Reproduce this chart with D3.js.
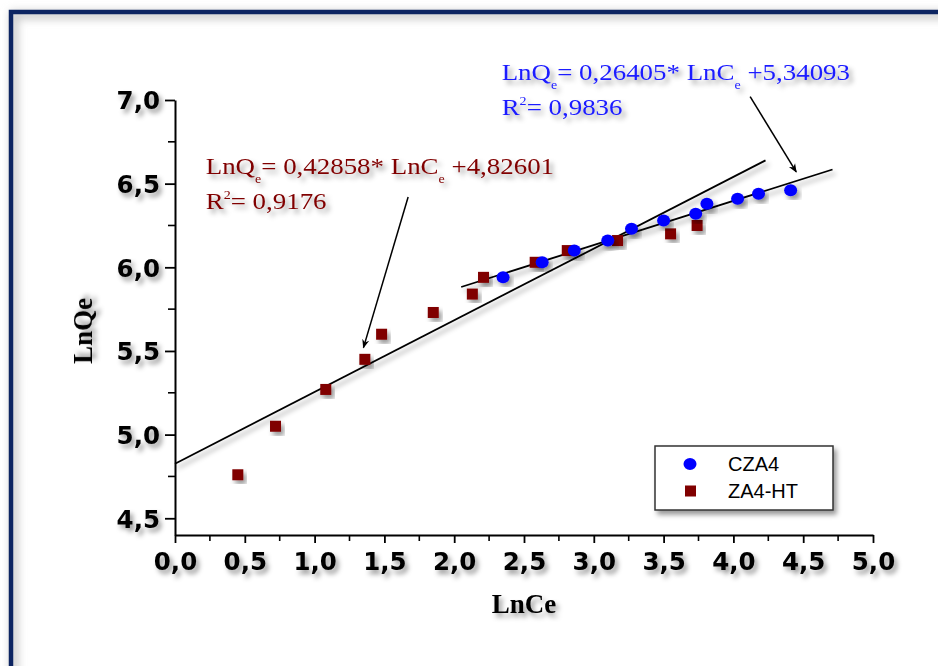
<!DOCTYPE html>
<html>
<head>
<meta charset="utf-8">
<script src="https://cdn.jsdelivr.net/npm/d3@7"></script>
<style>
  html, body { margin: 0; padding: 0; background: #fff; }
  svg { display: block; }
</style>
</head>
<body>
<svg id="chart"></svg>
<script>
// CZA4 (blue circles)
const czaX = [2.35, 2.63, 2.86, 3.10, 3.27, 3.50, 3.73, 3.81, 4.03, 4.18, 4.41];
const czaY = [5.94, 6.03, 6.10, 6.16, 6.23, 6.28, 6.32, 6.38, 6.41, 6.44, 6.46];
// ZA4-HT (dark red squares)
const htX = [0.45, 0.72, 1.08, 1.36, 1.48, 1.85, 2.13, 2.21, 2.58, 2.81, 3.17, 3.55, 3.74];
const htY = [4.76, 5.05, 5.27, 5.45, 5.60, 5.73, 5.84, 5.94, 6.03, 6.10, 6.16, 6.20, 6.25];

// linear fits: [slope, intercept, x start, x end]
const czaFit = [0.26405, 5.34093, 2.05, 4.71];
const htFit = [0.42858, 4.82601, 0.0, 4.23];

const xTicks = [0, 0.5, 1, 1.5, 2, 2.5, 3, 3.5, 4, 4.5, 5];
const yTicks = [4.5, 5.0, 5.5, 6.0, 6.5, 7.0];

const config = {
  width: 938, height: 666,
  margin: {top: 100, right: 65, bottom: 131, left: 175}
};

const svg = d3.select('#chart')
    .attr('width', config.width)
    .attr('height', config.height);

const defs = svg.append('defs');
const shadow = defs.append('filter').attr('id', 'shadow')
    .attr('x', '-20%').attr('y', '-20%').attr('width', '150%').attr('height', '150%');
shadow.append('feDropShadow')
    .attr('dx', 3).attr('dy', 4).attr('stdDeviation', 2.5)
    .attr('flood-color', '#000').attr('flood-opacity', 0.4);

const blur = defs.append('filter').attr('id', 'blur');
blur.append('feGaussianBlur').attr('stdDeviation', 4);

// frame with inner shadow
svg.append('rect')
    .attr('x', 14).attr('y', 15).attr('width', 1000).attr('height', 1000)
    .attr('fill', 'none').attr('stroke', '#c8c8c8').attr('stroke-width', 8)
    .attr('filter', 'url(#blur)');
svg.append('rect')
    .attr('x', 11).attr('y', 12).attr('width', 1000).attr('height', 1000)
    .attr('fill', 'none').attr('stroke', '#0c2461').attr('stroke-width', 4.5);

const x = d3.scaleLinear().domain([0, 5]).range([config.margin.left, config.width - config.margin.right]);
const y = d3.scaleLinear().domain([4.4, 7.0]).range([config.height - config.margin.bottom, config.margin.top]);

const chart = svg.append('g');

// axes
const fmt = d => d3.format('.1f')(d).replace('.', ',');
const xAxis = d3.axisBottom(x).tickValues(xTicks).tickSize(8).tickPadding(10).tickFormat(fmt);
const yAxis = d3.axisLeft(y).tickValues(yTicks).tickSize(10).tickPadding(5).tickFormat(fmt);

function styleAxis(g) {
  g.select('.domain').attr('stroke', '#000').attr('stroke-width', 2);
  g.selectAll('.tick line').attr('stroke', '#000').attr('stroke-width', 1.8);
  g.selectAll('.tick text')
      .attr('fill', '#000')
      .style('font-family', '"DejaVu Sans", Verdana, sans-serif')
      .style('font-weight', 'bold')
      .style('font-size', '24.5px')
      .attr('filter', 'url(#shadow)');
}

const gx = chart.append('g')
    .attr('transform', `translate(0,${y(4.4)})`)
    .call(xAxis.tickSizeOuter(0));
styleAxis(gx);

const gy = chart.append('g')
    .attr('transform', `translate(${x(0)},0)`)
    .call(yAxis.tickSizeOuter(0));
styleAxis(gy);
gy.selectAll('.tick text').attr('dy', '0.36em');

// minor ticks
const xMinor = d3.range(0.25, 5, 0.5);
chart.append('g').selectAll('line').data(xMinor).join('line')
    .attr('x1', d => x(d)).attr('x2', d => x(d))
    .attr('y1', y(4.4)).attr('y2', y(4.4) + 6)
    .attr('stroke', '#000').attr('stroke-width', 1.6);
const yMinor = d3.range(4.75, 7, 0.5);
chart.append('g').selectAll('line').data(yMinor).join('line')
    .attr('x1', x(0) - 7).attr('x2', x(0))
    .attr('y1', d => y(d)).attr('y2', d => y(d))
    .attr('stroke', '#000').attr('stroke-width', 1.6);

// axis titles
chart.append('text')
    .attr('x', x(2.5)).attr('y', 613)
    .attr('text-anchor', 'middle')
    .style('font-family', '"Liberation Serif", "Times New Roman", serif')
    .style('font-weight', 'bold').style('font-size', '27px')
    .attr('filter', 'url(#shadow)')
    .text('LnCe');
chart.append('text')
    .attr('transform', `translate(92,${y(5.62)}) rotate(-90)`)
    .attr('text-anchor', 'middle')
    .style('font-family', '"Liberation Serif", "Times New Roman", serif')
    .style('font-weight', 'bold').style('font-size', '27px')
    .attr('filter', 'url(#shadow)')
    .text('LnQe');

// fit lines
const line = d3.line().x(d => x(d[0])).y(d => y(d[1]));
[htFit, czaFit].forEach(f => {
  chart.append('path')
      .datum([[f[2], f[0] * f[2] + f[1]], [f[3], f[0] * f[3] + f[1]]])
      .attr('d', line)
      .attr('fill', 'none').attr('stroke', '#000').attr('stroke-width', 1.8)
      .attr('filter', 'url(#shadow)');
});

// points
const htData = htX.map((v, i) => [v, htY[i]]);
const czaData = czaX.map((v, i) => [v, czaY[i]]);
const sq = 11;
chart.append('g').selectAll('rect').data(htData).join('rect')
    .attr('x', d => x(d[0]) - sq / 2).attr('y', d => y(d[1]) - sq / 2)
    .attr('width', sq).attr('height', sq)
    .attr('fill', '#800000')
    .attr('filter', 'url(#shadow)');
chart.append('g').selectAll('ellipse').data(czaData).join('ellipse')
    .attr('cx', d => x(d[0])).attr('cy', d => y(d[1]))
    .attr('rx', 6.5).attr('ry', 6)
    .attr('fill', '#0000ff')
    .attr('filter', 'url(#shadow)');

// arrows
defs.append('marker').attr('id', 'arrow')
    .attr('viewBox', '0 0 10 10').attr('refX', 9).attr('refY', 5)
    .attr('markerWidth', 9).attr('markerHeight', 9).attr('orient', 'auto')
    .attr('markerUnits', 'userSpaceOnUse')
    .append('path').attr('d', 'M0,1 L10,5 L0,9 L3,5 Z').attr('fill', '#000');

const arrows = [
  [[4.12, 7.02], [4.45, 6.57]],
  [[1.67, 6.42], [1.35, 5.52]]
];
arrows.forEach(a => {
  chart.append('path')
      .datum(a).attr('d', line)
      .attr('stroke', '#000').attr('stroke-width', 1.5)
      .attr('marker-end', 'url(#arrow)');
});

// equations (stretched wide, as in the source image)
function equation(px, py, color, slope, intercept, r2) {
  const g = chart.append('g')
      .attr('transform', `translate(${x(px)},${y(py)}) scale(1.17,1)`)
      .attr('fill', color)
      .style('font-family', '"Liberation Serif", "Times New Roman", serif')
      .style('font-size', '23px')
      .attr('filter', 'url(#shadow)');
  const t1 = g.append('text').attr('x', 0).attr('y', 0);
  t1.append('tspan').text('LnQ');
  t1.append('tspan').attr('dy', 9).style('font-size', '12px').text('e');
  t1.append('tspan').attr('dy', -9).text(`= ${slope}* LnC`);
  t1.append('tspan').attr('dy', 9).style('font-size', '12px').text('e');
  t1.append('tspan').attr('dy', -9).text(`  +${intercept}`);
  const t2 = g.append('text').attr('x', 0).attr('y', 35);
  t2.append('tspan').text('R');
  t2.append('tspan').attr('dy', -10).style('font-size', '12px').text('2');
  t2.append('tspan').attr('dy', 10).text(`= ${r2}`);
}
equation(2.34, 7.12, '#1a1aff', '0,26405', '5,34093', '0,9836');
equation(0.22, 6.56, '#800000', '0,42858', '4,82601', '0,9176');

// legend
const leg = chart.append('g');
leg.append('rect')
    .attr('x', 655).attr('y', 446).attr('width', 178).attr('height', 64)
    .attr('fill', '#fff').attr('stroke', '#333').attr('stroke-width', 1.5)
    .attr('filter', 'url(#shadow)');
const legItems = [['CZA4', '#0000ff', 'circle'], ['ZA4-HT', '#800000', 'square']];
legItems.forEach((d, i) => {
  const cy = 464 + i * 27;
  if (d[2] === 'circle') {
    leg.append('ellipse').attr('cx', 690).attr('cy', cy).attr('rx', 6.5).attr('ry', 6).attr('fill', d[1]);
  } else {
    leg.append('rect').attr('x', 685).attr('y', cy - 5.5).attr('width', 11).attr('height', 11).attr('fill', d[1]);
  }
  leg.append('text')
      .attr('x', 728).attr('y', cy + 7)
      .style('font-family', '"Liberation Sans", Arial, sans-serif')
      .style('font-size', '20px')
      .attr('fill', '#000')
      .text(d[0]);
});
</script>
</body>
</html>
